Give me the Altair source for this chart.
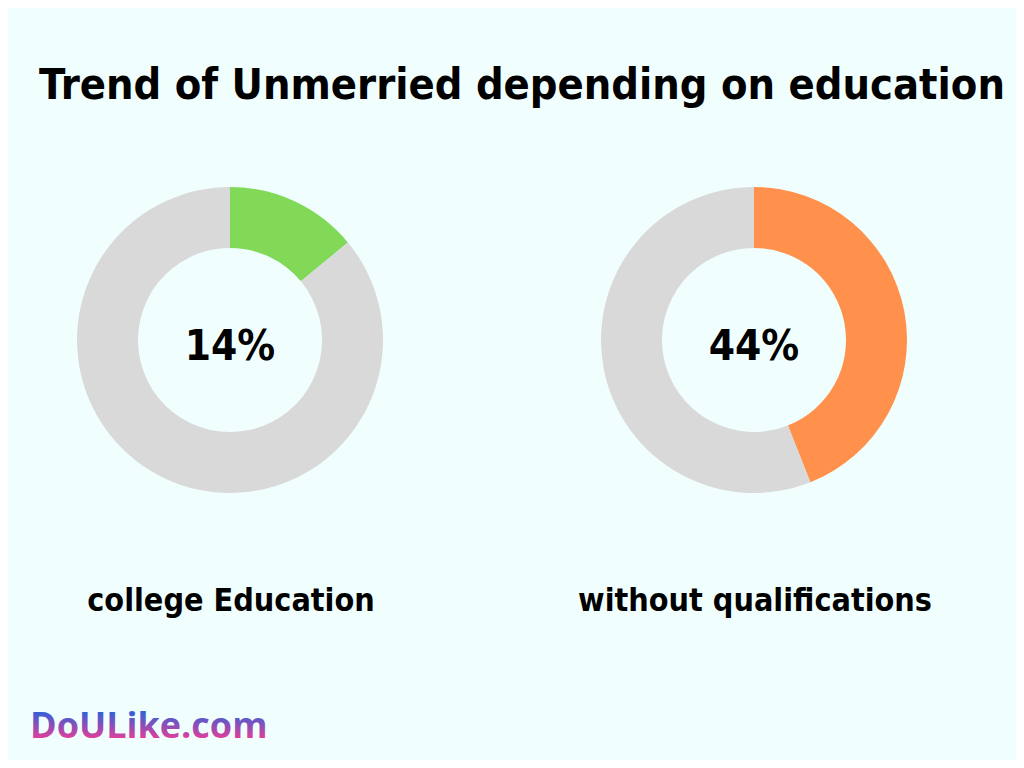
import altair as alt
import pandas as pd

groups = ["college Education", "without qualifications"]
values = [14, 44]
labels = ["14%", "44%"]
colors = ["#82D958", "#FF914D"]
rest_color = "#D9D9D9"
title = "Trend of Unmerried depending on education"
brand = "DoULike.com"

rows = []
for g, v in zip(groups, values):
    rows.append({"group": g, "part": g, "pct": v, "order": 0})
    rows.append({"group": g, "part": "rest", "pct": 100 - v, "order": 1})
df = pd.DataFrame(rows)

color_scale = alt.Scale(domain=groups + ["rest"], range=colors + [rest_color])
centers_x = [222, 746]
cy = 332
FONT = "'DejaVu Sans Condensed', 'DejaVu Sans', sans-serif"

layers = []
for g, cx, lab in zip(groups, centers_x, labels):
    arc = alt.Chart(df).transform_filter(alt.datum.group == g).mark_arc(
        innerRadius=92, outerRadius=153
    ).encode(
        theta=alt.Theta("pct:Q", stack=True),
        order=alt.Order("order:Q"),
        color=alt.Color("part:N", scale=color_scale, legend=None),
        x=alt.value(cx), y=alt.value(cy),
    )
    center = alt.Chart(pd.DataFrame({"t": [lab]})).mark_text(
        font=FONT, fontWeight="bold", fontSize=42, color="#000000", baseline="alphabetic"
    ).encode(text="t:N", x=alt.value(cx), y=alt.value(cy + 20))
    bottom = alt.Chart(pd.DataFrame({"t": [g]})).mark_text(
        font=FONT, fontWeight="bold", fontSize=32, color="#000000", baseline="alphabetic"
    ).encode(text="t:N", x=alt.value(cx + 1), y=alt.value(603))
    layers += [arc, center, bottom]

title_layer = alt.Chart(pd.DataFrame({"t": [title]})).mark_text(
    font=FONT, fontWeight="bold", fontSize=43, color="#000000", baseline="alphabetic"
).encode(text="t:N", x=alt.value(514), y=alt.value(91))

brand_layer = alt.Chart(pd.DataFrame({"t": [brand]})).mark_text(
    font="Open Sans", fontWeight="bold", fontSize=36, align="left", baseline="alphabetic",
    color=alt.Gradient(
        gradient="linear", x1=0, y1=0, x2=0, y2=1,
        stops=[alt.GradientStop(color="#3560D6", offset=0.25),
               alt.GradientStop(color="#E63E98", offset=0.8)],
    ),
).encode(text="t:N", x=alt.value(22), y=alt.value(730))

chart = alt.layer(title_layer, *layers, brand_layer).properties(
    width=1008, height=752, background="#F0FFFE", padding=0,
    autosize=alt.AutoSizeParams(type="none"),
).configure_view(stroke=None)

chart.save("out.html", embed_options={"renderer": "svg", "actions": False})
